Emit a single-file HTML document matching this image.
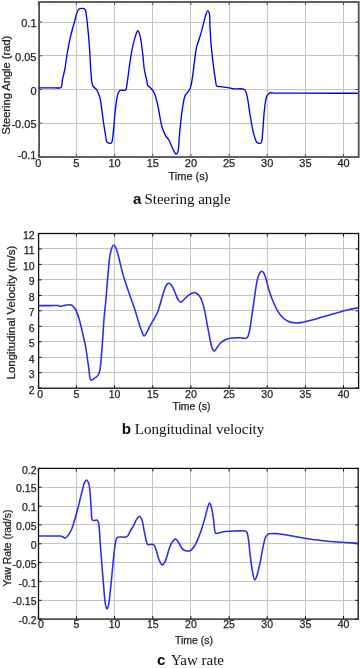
<!DOCTYPE html>
<html><head><meta charset="utf-8"><style>
html,body{margin:0;padding:0;background:#fff;}
svg{display:block;will-change:transform;}
.grid{stroke:#c4c4c4;stroke-width:1;}
.grid2{stroke:#e4e4e4;stroke-width:1;stroke-dasharray:1,2;}
.tk{font-family:"Liberation Sans",sans-serif;fill:#222;stroke:#222;stroke-width:0.25px;}
.cap{font-family:"Liberation Serif",serif;font-size:15px;fill:#111;}
.capl{font-family:"Liberation Sans",sans-serif;font-weight:bold;font-size:15.2px;}
</style></head><body>
<svg width="360" height="668" viewBox="0 0 360 668">
<line x1="76.5" y1="2.0" x2="76.5" y2="157.0" class="grid"/>
<line x1="114.5" y1="2.0" x2="114.5" y2="157.0" class="grid"/>
<line x1="152.5" y1="2.0" x2="152.5" y2="157.0" class="grid"/>
<line x1="190.5" y1="2.0" x2="190.5" y2="157.0" class="grid"/>
<line x1="229.5" y1="2.0" x2="229.5" y2="157.0" class="grid"/>
<line x1="267.5" y1="2.0" x2="267.5" y2="157.0" class="grid"/>
<line x1="305.5" y1="2.0" x2="305.5" y2="157.0" class="grid"/>
<line x1="343.5" y1="2.0" x2="343.5" y2="157.0" class="grid"/>
<line x1="39.1" y1="123.5" x2="358.7" y2="123.5" class="grid"/>
<line x1="39.1" y1="89.5" x2="358.7" y2="89.5" class="grid"/>
<line x1="39.1" y1="55.5" x2="358.7" y2="55.5" class="grid"/>
<line x1="39.1" y1="22.5" x2="358.7" y2="22.5" class="grid"/>
<line x1="39.1" y1="4.5" x2="358.7" y2="4.5" class="grid2"/>
<line x1="39.1" y1="154.5" x2="358.7" y2="154.5" class="grid2"/>
<rect x="39.1" y="2.0" width="319.6" height="155.0" fill="none" stroke="#505050" stroke-width="1.80"/>
<line x1="38.3" y1="157.0" x2="38.3" y2="154.0" stroke="#505050" stroke-width="1"/>
<line x1="38.3" y1="2.0" x2="38.3" y2="5.0" stroke="#505050" stroke-width="1"/>
<line x1="76.4" y1="157.0" x2="76.4" y2="154.0" stroke="#505050" stroke-width="1"/>
<line x1="76.4" y1="2.0" x2="76.4" y2="5.0" stroke="#505050" stroke-width="1"/>
<line x1="114.6" y1="157.0" x2="114.6" y2="154.0" stroke="#505050" stroke-width="1"/>
<line x1="114.6" y1="2.0" x2="114.6" y2="5.0" stroke="#505050" stroke-width="1"/>
<line x1="152.8" y1="157.0" x2="152.8" y2="154.0" stroke="#505050" stroke-width="1"/>
<line x1="152.8" y1="2.0" x2="152.8" y2="5.0" stroke="#505050" stroke-width="1"/>
<line x1="190.9" y1="157.0" x2="190.9" y2="154.0" stroke="#505050" stroke-width="1"/>
<line x1="190.9" y1="2.0" x2="190.9" y2="5.0" stroke="#505050" stroke-width="1"/>
<line x1="229.1" y1="157.0" x2="229.1" y2="154.0" stroke="#505050" stroke-width="1"/>
<line x1="229.1" y1="2.0" x2="229.1" y2="5.0" stroke="#505050" stroke-width="1"/>
<line x1="267.2" y1="157.0" x2="267.2" y2="154.0" stroke="#505050" stroke-width="1"/>
<line x1="267.2" y1="2.0" x2="267.2" y2="5.0" stroke="#505050" stroke-width="1"/>
<line x1="305.4" y1="157.0" x2="305.4" y2="154.0" stroke="#505050" stroke-width="1"/>
<line x1="305.4" y1="2.0" x2="305.4" y2="5.0" stroke="#505050" stroke-width="1"/>
<line x1="343.5" y1="157.0" x2="343.5" y2="154.0" stroke="#505050" stroke-width="1"/>
<line x1="343.5" y1="2.0" x2="343.5" y2="5.0" stroke="#505050" stroke-width="1"/>
<line x1="39.1" y1="157.0" x2="42.1" y2="157.0" stroke="#505050" stroke-width="1"/>
<line x1="358.7" y1="157.0" x2="355.7" y2="157.0" stroke="#505050" stroke-width="1"/>
<line x1="39.1" y1="123.2" x2="42.1" y2="123.2" stroke="#505050" stroke-width="1"/>
<line x1="358.7" y1="123.2" x2="355.7" y2="123.2" stroke="#505050" stroke-width="1"/>
<line x1="39.1" y1="89.5" x2="42.1" y2="89.5" stroke="#505050" stroke-width="1"/>
<line x1="358.7" y1="89.5" x2="355.7" y2="89.5" stroke="#505050" stroke-width="1"/>
<line x1="39.1" y1="55.8" x2="42.1" y2="55.8" stroke="#505050" stroke-width="1"/>
<line x1="358.7" y1="55.8" x2="355.7" y2="55.8" stroke="#505050" stroke-width="1"/>
<line x1="39.1" y1="22.0" x2="42.1" y2="22.0" stroke="#505050" stroke-width="1"/>
<line x1="358.7" y1="22.0" x2="355.7" y2="22.0" stroke="#505050" stroke-width="1"/>
<path d="M38.40,87.80 C42.27,87.80 46.25,87.80 50.00,87.80 C53.54,87.80 58.69,88.24 60.30,87.80 C60.84,87.65 61.02,87.62 61.30,87.20 C62.00,86.16 61.91,82.59 62.40,80.00 C62.99,76.93 64.00,73.66 64.70,70.00 C65.53,65.63 66.06,60.49 66.90,55.50 C67.81,50.15 68.99,43.57 70.00,38.90 C70.75,35.46 71.44,32.86 72.20,30.00 C72.91,27.31 73.67,24.89 74.40,22.20 C75.17,19.34 76.01,15.39 76.70,13.30 C77.09,12.12 77.25,11.37 77.80,10.60 C78.35,9.83 79.09,9.04 80.00,8.70 C81.06,8.31 82.93,8.27 83.90,8.70 C84.68,9.05 85.19,9.74 85.60,10.60 C86.18,11.81 86.15,13.82 86.40,15.60 C86.69,17.65 86.93,19.71 87.20,22.20 C87.55,25.42 87.95,29.55 88.30,33.30 C88.66,37.15 89.00,40.86 89.30,45.00 C89.64,49.69 89.92,55.28 90.20,60.00 C90.45,64.22 90.59,68.09 90.90,72.00 C91.20,75.75 91.43,80.38 92.00,83.00 C92.33,84.52 92.58,85.59 93.20,86.50 C93.74,87.29 94.61,87.53 95.30,88.30 C96.21,89.31 97.23,90.66 98.00,92.20 C98.93,94.08 99.52,95.98 100.20,98.90 C101.41,104.09 102.33,114.47 103.30,121.00 C104.07,126.20 104.82,131.11 105.50,135.00 C105.99,137.80 106.02,141.05 106.90,142.20 C107.33,142.77 107.87,142.85 108.50,143.00 C109.29,143.19 110.57,143.61 111.30,143.00 C112.75,141.79 112.73,136.37 113.30,132.20 C114.07,126.57 114.32,118.66 115.10,112.20 C115.84,106.08 116.53,98.15 117.80,94.40 C118.44,92.51 118.82,91.16 120.00,90.40 C121.31,89.56 124.41,91.03 125.60,90.00 C126.92,88.86 126.63,85.92 127.10,83.30 C127.76,79.63 128.37,73.84 128.90,70.00 C129.31,67.05 129.55,65.14 130.00,62.20 C130.59,58.35 131.27,53.31 132.20,48.90 C133.14,44.45 134.44,38.91 135.60,35.60 C136.32,33.53 137.07,30.70 137.80,30.70 C138.53,30.70 139.35,33.35 140.00,35.60 C141.27,39.96 142.14,49.47 142.90,55.60 C143.55,60.79 143.68,65.66 144.40,70.00 C145.01,73.66 146.09,77.14 146.70,80.00 C147.15,82.13 147.03,84.35 147.80,85.60 C148.34,86.47 149.20,86.48 150.00,87.30 C151.30,88.63 153.19,90.81 154.40,93.30 C155.98,96.56 156.68,100.88 157.80,105.60 C159.29,111.89 160.50,122.36 162.20,127.80 C163.24,131.14 164.34,133.43 165.60,135.60 C166.62,137.34 167.82,138.16 168.90,140.00 C170.42,142.59 171.90,147.46 173.30,150.00 C174.23,151.69 175.14,153.92 176.00,154.00 C176.62,154.06 177.31,153.23 177.80,152.20 C179.00,149.66 178.77,142.04 179.30,136.70 C179.87,130.97 180.45,124.40 181.10,118.90 C181.66,114.14 182.17,109.70 182.90,105.60 C183.54,102.02 183.97,97.97 185.10,95.60 C185.83,94.06 186.95,93.44 187.80,92.20 C188.72,90.86 189.71,89.59 190.40,87.80 C191.31,85.43 191.63,82.42 192.20,79.00 C192.99,74.31 193.63,67.68 194.40,62.20 C195.14,56.93 195.74,50.77 196.70,46.70 C197.35,43.97 198.11,42.52 198.90,40.00 C199.91,36.77 201.13,32.78 202.20,28.90 C203.37,24.68 204.44,18.91 205.60,15.60 C206.32,13.53 207.10,10.74 207.80,10.70 C208.32,10.67 208.93,12.03 209.30,13.30 C210.09,15.98 209.73,21.92 210.00,26.70 C210.31,32.19 210.58,38.33 211.10,44.40 C211.66,50.87 212.51,58.04 213.30,64.40 C214.02,70.22 214.89,77.20 215.60,81.10 C215.98,83.23 215.72,85.08 216.70,86.00 C217.62,86.87 219.48,86.46 221.10,86.70 C223.10,86.99 225.58,87.25 227.80,87.60 C230.01,87.95 231.96,88.49 234.40,88.80 C237.38,89.17 242.39,88.12 244.40,89.50 C245.88,90.51 246.00,92.15 246.70,94.40 C248.05,98.76 248.87,107.93 250.00,114.40 C251.07,120.51 251.98,127.16 253.30,132.20 C254.31,136.05 255.31,140.60 256.70,142.20 C257.37,142.97 258.15,143.19 258.90,143.30 C259.62,143.40 260.52,143.50 261.10,142.90 C262.38,141.58 262.25,136.23 262.70,132.20 C263.27,127.03 263.47,119.90 264.00,114.40 C264.46,109.64 264.93,104.55 265.60,101.10 C266.04,98.85 266.24,97.02 267.10,95.60 C267.82,94.41 268.79,93.35 270.00,92.90 C271.36,92.40 272.70,93.05 275.00,93.10 C280.15,93.21 289.94,93.18 300.00,93.20 C315.32,93.23 338.67,93.20 358.00,93.20" fill="none" stroke="#0000f8" stroke-width="1.35" stroke-linejoin="round" stroke-linecap="butt"/>
<text x="38.3" y="166.7" text-anchor="middle" class="tk" font-size="11.0">0</text>
<text x="76.4" y="166.7" text-anchor="middle" class="tk" font-size="11.0">5</text>
<text x="114.6" y="166.7" text-anchor="middle" class="tk" font-size="11.0">10</text>
<text x="152.8" y="166.7" text-anchor="middle" class="tk" font-size="11.0">15</text>
<text x="190.9" y="166.7" text-anchor="middle" class="tk" font-size="11.0">20</text>
<text x="229.1" y="166.7" text-anchor="middle" class="tk" font-size="11.0">25</text>
<text x="267.2" y="166.7" text-anchor="middle" class="tk" font-size="11.0">30</text>
<text x="305.4" y="166.7" text-anchor="middle" class="tk" font-size="11.0">35</text>
<text x="343.5" y="166.7" text-anchor="middle" class="tk" font-size="11.0">40</text>
<text x="36.5" y="158.9" text-anchor="end" class="tk" font-size="11.0">-0.1</text>
<text x="36.5" y="128.4" text-anchor="end" class="tk" font-size="11.0">-0.05</text>
<text x="36.5" y="94.6" text-anchor="end" class="tk" font-size="11.0">0</text>
<text x="36.5" y="60.9" text-anchor="end" class="tk" font-size="11.0">0.05</text>
<text x="36.5" y="27.1" text-anchor="end" class="tk" font-size="11.0">0.1</text>
<text x="188.5" y="180.2" text-anchor="middle" class="tk" font-size="11.0">Time (s)</text>
<text transform="translate(9.9,85.1) rotate(-90)" text-anchor="middle" class="tk" font-size="10.8" textLength="98.8" lengthAdjust="spacingAndGlyphs">Steering Angle (rad)</text>
<text x="133.0" y="204.2" class="cap"><tspan class="capl">a</tspan><tspan dx="-0.8"> Steering angle</tspan></text>
<line x1="76.5" y1="233.5" x2="76.5" y2="388.2" class="grid"/>
<line x1="114.5" y1="233.5" x2="114.5" y2="388.2" class="grid"/>
<line x1="152.5" y1="233.5" x2="152.5" y2="388.2" class="grid"/>
<line x1="190.5" y1="233.5" x2="190.5" y2="388.2" class="grid"/>
<line x1="229.5" y1="233.5" x2="229.5" y2="388.2" class="grid"/>
<line x1="267.5" y1="233.5" x2="267.5" y2="388.2" class="grid"/>
<line x1="305.5" y1="233.5" x2="305.5" y2="388.2" class="grid"/>
<line x1="343.5" y1="233.5" x2="343.5" y2="388.2" class="grid"/>
<line x1="38.6" y1="372.5" x2="358.6" y2="372.5" class="grid"/>
<line x1="38.6" y1="357.5" x2="358.6" y2="357.5" class="grid"/>
<line x1="38.6" y1="341.5" x2="358.6" y2="341.5" class="grid"/>
<line x1="38.6" y1="326.5" x2="358.6" y2="326.5" class="grid"/>
<line x1="38.6" y1="310.5" x2="358.6" y2="310.5" class="grid"/>
<line x1="38.6" y1="295.5" x2="358.6" y2="295.5" class="grid"/>
<line x1="38.6" y1="279.5" x2="358.6" y2="279.5" class="grid"/>
<line x1="38.6" y1="264.5" x2="358.6" y2="264.5" class="grid"/>
<line x1="38.6" y1="248.5" x2="358.6" y2="248.5" class="grid"/>
<rect x="38.6" y="233.5" width="320.0" height="154.7" fill="none" stroke="#111" stroke-width="1.30"/>
<line x1="38.3" y1="388.2" x2="38.3" y2="385.2" stroke="#111" stroke-width="1"/>
<line x1="38.3" y1="233.5" x2="38.3" y2="236.5" stroke="#111" stroke-width="1"/>
<line x1="76.4" y1="388.2" x2="76.4" y2="385.2" stroke="#111" stroke-width="1"/>
<line x1="76.4" y1="233.5" x2="76.4" y2="236.5" stroke="#111" stroke-width="1"/>
<line x1="114.6" y1="388.2" x2="114.6" y2="385.2" stroke="#111" stroke-width="1"/>
<line x1="114.6" y1="233.5" x2="114.6" y2="236.5" stroke="#111" stroke-width="1"/>
<line x1="152.8" y1="388.2" x2="152.8" y2="385.2" stroke="#111" stroke-width="1"/>
<line x1="152.8" y1="233.5" x2="152.8" y2="236.5" stroke="#111" stroke-width="1"/>
<line x1="190.9" y1="388.2" x2="190.9" y2="385.2" stroke="#111" stroke-width="1"/>
<line x1="190.9" y1="233.5" x2="190.9" y2="236.5" stroke="#111" stroke-width="1"/>
<line x1="229.1" y1="388.2" x2="229.1" y2="385.2" stroke="#111" stroke-width="1"/>
<line x1="229.1" y1="233.5" x2="229.1" y2="236.5" stroke="#111" stroke-width="1"/>
<line x1="267.2" y1="388.2" x2="267.2" y2="385.2" stroke="#111" stroke-width="1"/>
<line x1="267.2" y1="233.5" x2="267.2" y2="236.5" stroke="#111" stroke-width="1"/>
<line x1="305.4" y1="388.2" x2="305.4" y2="385.2" stroke="#111" stroke-width="1"/>
<line x1="305.4" y1="233.5" x2="305.4" y2="236.5" stroke="#111" stroke-width="1"/>
<line x1="343.5" y1="388.2" x2="343.5" y2="385.2" stroke="#111" stroke-width="1"/>
<line x1="343.5" y1="233.5" x2="343.5" y2="236.5" stroke="#111" stroke-width="1"/>
<line x1="38.6" y1="388.2" x2="41.6" y2="388.2" stroke="#111" stroke-width="1"/>
<line x1="358.6" y1="388.2" x2="355.6" y2="388.2" stroke="#111" stroke-width="1"/>
<line x1="38.6" y1="372.7" x2="41.6" y2="372.7" stroke="#111" stroke-width="1"/>
<line x1="358.6" y1="372.7" x2="355.6" y2="372.7" stroke="#111" stroke-width="1"/>
<line x1="38.6" y1="357.3" x2="41.6" y2="357.3" stroke="#111" stroke-width="1"/>
<line x1="358.6" y1="357.3" x2="355.6" y2="357.3" stroke="#111" stroke-width="1"/>
<line x1="38.6" y1="341.8" x2="41.6" y2="341.8" stroke="#111" stroke-width="1"/>
<line x1="358.6" y1="341.8" x2="355.6" y2="341.8" stroke="#111" stroke-width="1"/>
<line x1="38.6" y1="326.3" x2="41.6" y2="326.3" stroke="#111" stroke-width="1"/>
<line x1="358.6" y1="326.3" x2="355.6" y2="326.3" stroke="#111" stroke-width="1"/>
<line x1="38.6" y1="310.8" x2="41.6" y2="310.8" stroke="#111" stroke-width="1"/>
<line x1="358.6" y1="310.8" x2="355.6" y2="310.8" stroke="#111" stroke-width="1"/>
<line x1="38.6" y1="295.4" x2="41.6" y2="295.4" stroke="#111" stroke-width="1"/>
<line x1="358.6" y1="295.4" x2="355.6" y2="295.4" stroke="#111" stroke-width="1"/>
<line x1="38.6" y1="279.9" x2="41.6" y2="279.9" stroke="#111" stroke-width="1"/>
<line x1="358.6" y1="279.9" x2="355.6" y2="279.9" stroke="#111" stroke-width="1"/>
<line x1="38.6" y1="264.4" x2="41.6" y2="264.4" stroke="#111" stroke-width="1"/>
<line x1="358.6" y1="264.4" x2="355.6" y2="264.4" stroke="#111" stroke-width="1"/>
<line x1="38.6" y1="249.0" x2="41.6" y2="249.0" stroke="#111" stroke-width="1"/>
<line x1="358.6" y1="249.0" x2="355.6" y2="249.0" stroke="#111" stroke-width="1"/>
<line x1="38.6" y1="233.5" x2="41.6" y2="233.5" stroke="#111" stroke-width="1"/>
<line x1="358.6" y1="233.5" x2="355.6" y2="233.5" stroke="#111" stroke-width="1"/>
<path d="M38.40,305.60 C42.27,305.60 46.49,305.60 50.00,305.60 C52.91,305.60 56.18,305.36 58.00,305.60 C58.97,305.73 59.38,306.16 60.20,306.20 C61.21,306.25 62.33,305.82 63.60,305.60 C65.21,305.33 67.51,304.62 69.10,304.70 C70.35,304.76 71.39,304.93 72.40,305.60 C73.68,306.46 74.79,308.18 75.80,310.00 C77.12,312.37 78.08,315.60 79.10,318.90 C80.32,322.86 81.32,327.58 82.40,332.20 C83.56,337.18 84.80,342.26 85.80,347.80 C86.93,354.03 87.75,361.96 88.70,367.80 C89.44,372.37 89.41,379.18 90.90,380.00 C91.62,380.40 92.62,379.49 93.60,378.90 C95.03,378.04 97.30,376.64 98.40,374.90 C99.59,373.01 99.67,370.90 100.20,367.80 C101.17,362.11 101.75,351.54 102.40,343.30 C103.06,334.94 103.46,325.58 104.10,318.00 C104.62,311.80 105.23,307.38 105.80,301.10 C106.52,293.22 107.21,282.65 108.00,274.40 C108.69,267.25 109.20,259.47 110.20,254.40 C110.83,251.20 111.49,248.25 112.40,246.70 C112.88,245.88 113.48,245.05 114.00,245.10 C114.62,245.16 115.24,246.66 115.80,247.80 C116.62,249.48 117.31,252.02 118.00,254.40 C118.79,257.13 119.47,260.33 120.20,263.30 C120.93,266.27 121.63,269.34 122.40,272.20 C123.13,274.89 123.84,277.25 124.70,280.00 C125.68,283.13 126.89,286.71 128.00,290.00 C129.09,293.21 130.18,296.34 131.30,299.50 C132.42,302.67 133.62,305.70 134.70,309.00 C135.86,312.52 136.88,316.43 138.00,320.00 C139.08,323.42 140.14,327.12 141.30,330.00 C142.23,332.29 143.17,335.91 144.20,336.00 C145.06,336.07 146.01,333.68 146.90,332.20 C148.02,330.34 148.98,327.87 150.20,325.60 C151.55,323.09 153.39,320.20 154.70,317.80 C155.80,315.79 156.74,314.29 157.60,312.20 C158.61,309.76 159.30,306.99 160.20,304.00 C161.28,300.43 162.36,295.69 163.60,292.20 C164.63,289.30 165.63,285.75 166.90,284.40 C167.58,283.67 168.34,283.17 169.10,283.30 C170.15,283.48 171.41,285.23 172.40,286.70 C173.72,288.66 174.79,292.09 175.80,294.40 C176.62,296.27 177.07,298.14 178.00,299.50 C178.77,300.63 179.75,302.14 180.70,302.20 C181.62,302.26 182.57,300.90 183.60,300.00 C184.95,298.82 186.46,296.82 188.00,295.60 C189.40,294.49 191.06,293.33 192.40,292.90 C193.37,292.59 194.16,292.43 195.10,292.70 C196.37,293.06 197.96,294.26 199.10,295.60 C200.49,297.24 201.50,299.78 202.40,302.20 C203.41,304.90 203.95,307.70 204.70,311.10 C205.69,315.56 206.65,321.71 207.60,326.70 C208.48,331.31 209.32,336.02 210.20,340.00 C210.92,343.27 211.45,346.99 212.40,348.90 C212.93,349.96 213.54,351.10 214.20,351.10 C215.01,351.10 215.97,349.00 216.90,347.80 C217.96,346.43 218.90,344.60 220.20,343.30 C221.50,342.00 223.05,340.85 224.70,340.00 C226.38,339.14 228.12,338.58 230.20,338.20 C232.78,337.73 236.23,337.85 239.10,337.80 C241.79,337.76 245.24,338.98 246.90,337.90 C248.30,336.99 248.47,334.95 249.10,332.80 C250.09,329.44 250.58,324.03 251.30,319.40 C252.08,314.42 252.85,309.08 253.60,303.90 C254.35,298.71 255.00,293.05 255.80,288.30 C256.48,284.28 257.07,280.11 258.00,277.20 C258.64,275.19 259.37,273.29 260.20,272.30 C260.70,271.70 261.26,271.17 261.80,271.20 C262.40,271.24 263.05,272.02 263.60,272.80 C264.46,274.02 265.06,276.08 265.80,278.30 C266.89,281.56 267.81,286.54 269.10,290.60 C270.40,294.71 272.00,299.09 273.60,302.80 C274.99,306.04 276.38,309.16 278.00,311.70 C279.36,313.84 280.72,315.61 282.40,317.20 C284.06,318.77 285.87,320.26 288.00,321.20 C290.29,322.22 293.30,322.74 295.80,322.90 C298.08,323.04 300.01,322.69 302.40,322.30 C305.32,321.82 308.57,320.91 312.00,320.00 C316.02,318.93 320.78,317.41 325.00,316.20 C329.00,315.05 332.80,313.98 336.70,312.90 C340.60,311.82 344.67,310.57 348.40,309.70 C351.77,308.91 354.87,308.43 358.10,307.80" fill="none" stroke="#2a2af0" stroke-width="1.55" stroke-linejoin="round" stroke-linecap="butt"/>
<text x="40.2" y="397.8" text-anchor="middle" class="tk" font-size="10.5">0</text>
<text x="76.4" y="397.8" text-anchor="middle" class="tk" font-size="10.5">5</text>
<text x="114.6" y="397.8" text-anchor="middle" class="tk" font-size="10.5">10</text>
<text x="152.8" y="397.8" text-anchor="middle" class="tk" font-size="10.5">15</text>
<text x="190.9" y="397.8" text-anchor="middle" class="tk" font-size="10.5">20</text>
<text x="229.1" y="397.8" text-anchor="middle" class="tk" font-size="10.5">25</text>
<text x="267.2" y="397.8" text-anchor="middle" class="tk" font-size="10.5">30</text>
<text x="305.4" y="397.8" text-anchor="middle" class="tk" font-size="10.5">35</text>
<text x="343.5" y="397.8" text-anchor="middle" class="tk" font-size="10.5">40</text>
<text x="34.6" y="394.3" text-anchor="end" class="tk" font-size="10.5">2</text>
<text x="34.6" y="378.2" text-anchor="end" class="tk" font-size="10.5">3</text>
<text x="34.6" y="362.7" text-anchor="end" class="tk" font-size="10.5">4</text>
<text x="34.6" y="347.2" text-anchor="end" class="tk" font-size="10.5">5</text>
<text x="34.6" y="331.8" text-anchor="end" class="tk" font-size="10.5">6</text>
<text x="34.6" y="316.3" text-anchor="end" class="tk" font-size="10.5">7</text>
<text x="34.6" y="300.8" text-anchor="end" class="tk" font-size="10.5">8</text>
<text x="34.6" y="285.4" text-anchor="end" class="tk" font-size="10.5">9</text>
<text x="34.6" y="269.9" text-anchor="end" class="tk" font-size="10.5">10</text>
<text x="34.6" y="254.4" text-anchor="end" class="tk" font-size="10.5">11</text>
<text x="34.6" y="239.0" text-anchor="end" class="tk" font-size="10.5">12</text>
<text x="191.5" y="409.6" text-anchor="middle" class="tk" font-size="10.5">Time (s)</text>
<text transform="translate(14.8,312.6) rotate(-90)" text-anchor="middle" class="tk" font-size="10.6" textLength="133.7" lengthAdjust="spacingAndGlyphs">Longitudinal Velocity (m/s)</text>
<text x="121.7" y="434.0" class="cap"><tspan class="capl">b</tspan><tspan dx="0.0"> Longitudinal velocity</tspan></text>
<line x1="76.5" y1="468.4" x2="76.5" y2="619.1" class="grid"/>
<line x1="114.5" y1="468.4" x2="114.5" y2="619.1" class="grid"/>
<line x1="152.5" y1="468.4" x2="152.5" y2="619.1" class="grid"/>
<line x1="190.5" y1="468.4" x2="190.5" y2="619.1" class="grid"/>
<line x1="229.5" y1="468.4" x2="229.5" y2="619.1" class="grid"/>
<line x1="267.5" y1="468.4" x2="267.5" y2="619.1" class="grid"/>
<line x1="305.5" y1="468.4" x2="305.5" y2="619.1" class="grid"/>
<line x1="343.5" y1="468.4" x2="343.5" y2="619.1" class="grid"/>
<line x1="38.5" y1="600.5" x2="358.2" y2="600.5" class="grid"/>
<line x1="38.5" y1="581.5" x2="358.2" y2="581.5" class="grid"/>
<line x1="38.5" y1="562.5" x2="358.2" y2="562.5" class="grid"/>
<line x1="38.5" y1="543.5" x2="358.2" y2="543.5" class="grid"/>
<line x1="38.5" y1="524.5" x2="358.2" y2="524.5" class="grid"/>
<line x1="38.5" y1="506.5" x2="358.2" y2="506.5" class="grid"/>
<line x1="38.5" y1="487.5" x2="358.2" y2="487.5" class="grid"/>
<rect x="38.5" y="468.4" width="319.7" height="150.7" fill="none" stroke="#111" stroke-width="1.30"/>
<line x1="38.3" y1="619.1" x2="38.3" y2="616.1" stroke="#111" stroke-width="1"/>
<line x1="38.3" y1="468.4" x2="38.3" y2="471.4" stroke="#111" stroke-width="1"/>
<line x1="76.4" y1="619.1" x2="76.4" y2="616.1" stroke="#111" stroke-width="1"/>
<line x1="76.4" y1="468.4" x2="76.4" y2="471.4" stroke="#111" stroke-width="1"/>
<line x1="114.6" y1="619.1" x2="114.6" y2="616.1" stroke="#111" stroke-width="1"/>
<line x1="114.6" y1="468.4" x2="114.6" y2="471.4" stroke="#111" stroke-width="1"/>
<line x1="152.8" y1="619.1" x2="152.8" y2="616.1" stroke="#111" stroke-width="1"/>
<line x1="152.8" y1="468.4" x2="152.8" y2="471.4" stroke="#111" stroke-width="1"/>
<line x1="190.9" y1="619.1" x2="190.9" y2="616.1" stroke="#111" stroke-width="1"/>
<line x1="190.9" y1="468.4" x2="190.9" y2="471.4" stroke="#111" stroke-width="1"/>
<line x1="229.1" y1="619.1" x2="229.1" y2="616.1" stroke="#111" stroke-width="1"/>
<line x1="229.1" y1="468.4" x2="229.1" y2="471.4" stroke="#111" stroke-width="1"/>
<line x1="267.2" y1="619.1" x2="267.2" y2="616.1" stroke="#111" stroke-width="1"/>
<line x1="267.2" y1="468.4" x2="267.2" y2="471.4" stroke="#111" stroke-width="1"/>
<line x1="305.4" y1="619.1" x2="305.4" y2="616.1" stroke="#111" stroke-width="1"/>
<line x1="305.4" y1="468.4" x2="305.4" y2="471.4" stroke="#111" stroke-width="1"/>
<line x1="343.5" y1="619.1" x2="343.5" y2="616.1" stroke="#111" stroke-width="1"/>
<line x1="343.5" y1="468.4" x2="343.5" y2="471.4" stroke="#111" stroke-width="1"/>
<line x1="38.5" y1="619.1" x2="41.5" y2="619.1" stroke="#111" stroke-width="1"/>
<line x1="358.2" y1="619.1" x2="355.2" y2="619.1" stroke="#111" stroke-width="1"/>
<line x1="38.5" y1="600.3" x2="41.5" y2="600.3" stroke="#111" stroke-width="1"/>
<line x1="358.2" y1="600.3" x2="355.2" y2="600.3" stroke="#111" stroke-width="1"/>
<line x1="38.5" y1="581.4" x2="41.5" y2="581.4" stroke="#111" stroke-width="1"/>
<line x1="358.2" y1="581.4" x2="355.2" y2="581.4" stroke="#111" stroke-width="1"/>
<line x1="38.5" y1="562.6" x2="41.5" y2="562.6" stroke="#111" stroke-width="1"/>
<line x1="358.2" y1="562.6" x2="355.2" y2="562.6" stroke="#111" stroke-width="1"/>
<line x1="38.5" y1="543.8" x2="41.5" y2="543.8" stroke="#111" stroke-width="1"/>
<line x1="358.2" y1="543.8" x2="355.2" y2="543.8" stroke="#111" stroke-width="1"/>
<line x1="38.5" y1="524.9" x2="41.5" y2="524.9" stroke="#111" stroke-width="1"/>
<line x1="358.2" y1="524.9" x2="355.2" y2="524.9" stroke="#111" stroke-width="1"/>
<line x1="38.5" y1="506.1" x2="41.5" y2="506.1" stroke="#111" stroke-width="1"/>
<line x1="358.2" y1="506.1" x2="355.2" y2="506.1" stroke="#111" stroke-width="1"/>
<line x1="38.5" y1="487.2" x2="41.5" y2="487.2" stroke="#111" stroke-width="1"/>
<line x1="358.2" y1="487.2" x2="355.2" y2="487.2" stroke="#111" stroke-width="1"/>
<line x1="38.5" y1="468.4" x2="41.5" y2="468.4" stroke="#111" stroke-width="1"/>
<line x1="358.2" y1="468.4" x2="355.2" y2="468.4" stroke="#111" stroke-width="1"/>
<path d="M38.40,536.00 C42.27,536.00 46.23,536.00 50.00,536.00 C53.59,536.00 58.86,535.76 60.50,536.00 C61.02,536.08 61.11,536.15 61.50,536.30 C62.08,536.52 62.97,536.96 63.60,537.30 C64.15,537.59 64.54,538.25 65.10,538.20 C65.93,538.12 67.08,536.72 68.00,535.60 C69.18,534.15 70.29,532.20 71.30,530.00 C72.58,527.20 73.63,523.52 74.70,520.00 C75.87,516.15 76.92,511.97 78.00,507.80 C79.13,503.44 80.16,498.75 81.30,494.40 C82.39,490.23 83.51,484.56 84.70,482.20 C85.26,481.09 85.80,479.99 86.40,480.00 C87.12,480.02 88.11,481.78 88.70,483.30 C89.69,485.83 89.79,490.38 90.20,494.40 C90.69,499.15 90.88,505.38 91.30,510.00 C91.63,513.71 91.21,518.73 92.40,520.00 C92.97,520.61 93.94,520.40 94.70,520.40 C95.44,520.40 96.30,519.75 96.90,520.00 C97.56,520.27 97.98,521.01 98.40,522.20 C99.60,525.57 99.63,536.36 100.20,543.30 C100.76,550.06 101.25,556.45 101.80,563.30 C102.38,570.53 102.98,578.60 103.60,585.60 C104.15,591.84 104.50,599.08 105.30,603.30 C105.76,605.72 106.31,608.86 106.90,608.90 C107.37,608.93 107.96,607.11 108.40,605.60 C109.24,602.68 109.61,597.23 110.20,592.20 C110.95,585.73 111.65,577.40 112.40,570.00 C113.15,562.60 113.86,553.52 114.70,547.80 C115.24,544.15 115.52,540.68 116.40,538.90 C116.85,537.98 117.12,537.52 118.00,537.10 C119.69,536.30 124.84,537.94 126.90,536.70 C128.66,535.64 129.08,532.95 130.20,531.10 C131.32,529.25 132.52,527.55 133.60,525.60 C134.76,523.50 135.71,520.57 136.90,518.90 C137.75,517.71 138.78,516.11 139.60,516.20 C140.49,516.30 141.33,518.32 142.00,520.00 C143.06,522.66 143.45,527.50 144.20,531.10 C144.92,534.52 145.70,538.68 146.40,541.10 C146.81,542.51 146.71,543.75 147.60,544.40 C148.76,545.24 152.22,543.73 153.60,544.60 C154.83,545.38 155.08,547.09 155.80,548.90 C156.92,551.70 157.74,557.12 159.10,560.00 C160.07,562.05 161.29,564.89 162.40,564.90 C163.52,564.91 164.81,562.06 165.80,560.00 C167.18,557.13 167.87,552.15 169.10,548.90 C170.11,546.23 171.07,543.55 172.40,541.80 C173.40,540.48 174.73,538.78 175.80,538.90 C176.98,539.03 178.04,541.71 179.10,543.30 C180.25,545.02 181.09,547.65 182.40,548.90 C183.41,549.86 184.55,550.39 185.80,550.70 C187.14,551.03 188.85,551.31 190.20,550.70 C191.88,549.94 193.42,547.51 194.70,545.60 C196.04,543.60 196.96,541.32 198.00,538.90 C199.17,536.17 200.24,533.15 201.30,530.00 C202.48,526.52 203.65,522.61 204.70,518.90 C205.75,515.21 206.62,510.73 207.60,507.80 C208.26,505.81 208.95,502.91 209.60,502.90 C210.18,502.89 210.78,505.01 211.30,506.70 C212.23,509.75 212.85,515.57 213.60,520.00 C214.35,524.43 214.08,532.09 215.80,533.30 C216.66,533.90 217.81,532.92 219.10,532.70 C220.94,532.38 223.40,531.86 225.80,531.60 C228.55,531.30 231.54,531.15 234.70,531.10 C238.29,531.05 244.12,529.87 246.20,531.40 C247.65,532.47 247.47,534.35 248.00,536.70 C248.98,541.03 249.43,549.62 250.20,555.60 C250.90,561.03 251.52,566.67 252.40,571.10 C253.08,574.50 253.80,579.90 254.70,580.00 C255.36,580.07 256.20,577.52 256.90,575.60 C258.08,572.39 259.15,567.00 260.20,562.20 C261.40,556.70 262.48,549.09 263.60,544.40 C264.34,541.28 264.63,538.54 265.80,536.70 C266.66,535.34 267.59,534.37 269.10,533.80 C271.24,532.99 274.88,533.58 278.00,533.80 C281.50,534.05 285.04,534.73 289.10,535.40 C294.06,536.22 300.17,537.66 305.60,538.50 C310.83,539.31 315.92,539.82 321.10,540.40 C326.29,540.98 331.87,541.59 336.70,542.00 C340.88,542.36 344.68,542.58 348.40,542.80 C351.78,543.00 354.87,543.13 358.10,543.30" fill="none" stroke="#2a2af0" stroke-width="1.55" stroke-linejoin="round" stroke-linecap="butt"/>
<text x="40.9" y="628.2" text-anchor="middle" class="tk" font-size="10.5">0</text>
<text x="76.4" y="628.2" text-anchor="middle" class="tk" font-size="10.5">5</text>
<text x="114.6" y="628.2" text-anchor="middle" class="tk" font-size="10.5">10</text>
<text x="152.8" y="628.2" text-anchor="middle" class="tk" font-size="10.5">15</text>
<text x="190.9" y="628.2" text-anchor="middle" class="tk" font-size="10.5">20</text>
<text x="229.1" y="628.2" text-anchor="middle" class="tk" font-size="10.5">25</text>
<text x="267.2" y="628.2" text-anchor="middle" class="tk" font-size="10.5">30</text>
<text x="305.4" y="628.2" text-anchor="middle" class="tk" font-size="10.5">35</text>
<text x="343.5" y="628.2" text-anchor="middle" class="tk" font-size="10.5">40</text>
<text x="36.5" y="624.2" text-anchor="end" class="tk" font-size="10.5">-0.2</text>
<text x="36.5" y="605.3" text-anchor="end" class="tk" font-size="10.5">-0.15</text>
<text x="36.5" y="586.5" text-anchor="end" class="tk" font-size="10.5">-0.1</text>
<text x="36.5" y="567.6" text-anchor="end" class="tk" font-size="10.5">-0.05</text>
<text x="36.5" y="548.8" text-anchor="end" class="tk" font-size="10.5">0</text>
<text x="36.5" y="530.0" text-anchor="end" class="tk" font-size="10.5">0.05</text>
<text x="36.5" y="511.1" text-anchor="end" class="tk" font-size="10.5">0.1</text>
<text x="36.5" y="492.3" text-anchor="end" class="tk" font-size="10.5">0.15</text>
<text x="36.5" y="473.5" text-anchor="end" class="tk" font-size="10.5">0.2</text>
<text x="194.0" y="644.0" text-anchor="middle" class="tk" font-size="10.5">Time (s)</text>
<text transform="translate(11.2,548.1) rotate(-90)" text-anchor="middle" class="tk" font-size="11.2" textLength="76.9" lengthAdjust="spacingAndGlyphs">Yaw Rate (rad/s)</text>
<text x="157.0" y="665.0" class="cap"><tspan class="capl">c</tspan><tspan dx="2.3"> Yaw rate</tspan></text>
</svg></body></html>
